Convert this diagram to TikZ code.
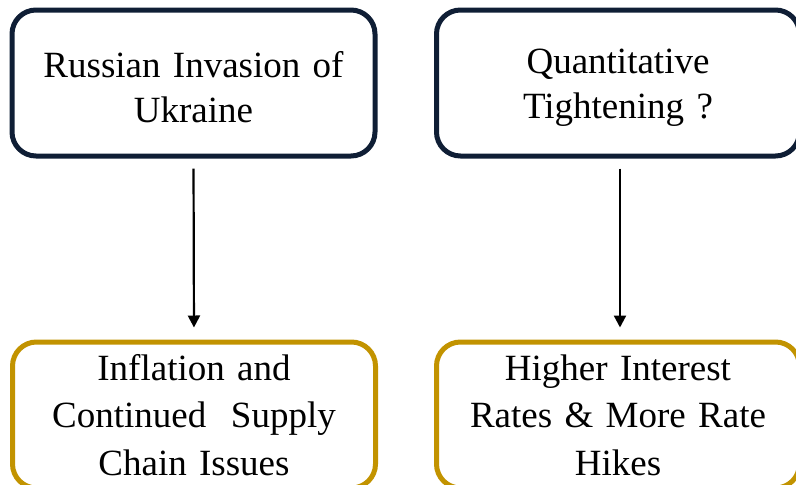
\documentclass[tikz,border=0pt]{standalone}
\usepackage{fontspec}
\setmainfont{Liberation Serif}
\usetikzlibrary{arrows.meta}
\definecolor{navy}{HTML}{0F1E35}
\definecolor{gold}{HTML}{C29300}
\newcommand{\lowerstrut}{\rule{0pt}{34pt}}
\tikzset{
  box/.style={draw, line width=5pt, rounded corners=24pt, minimum width=363pt, minimum height=146pt,
    align=center, font=\fontsize{37}{45.5}\selectfont, inner sep=0pt, text width=340pt},
  topbox/.style={box, draw=navy},
  botbox/.style={box, draw=gold, font=\fontsize{37}{47.5}\selectfont},
  conn/.style={line width=2.2pt, -{Triangle[width=12pt,length=12pt]}, shorten <=10pt, shorten >=12pt}
}
\begin{document}
\begin{tikzpicture}[x=1pt,y=1pt]
\useasboundingbox (0,0) rectangle (796,-485);
\node[topbox] (tl) at (193.5,-83) {\lowerstrut Russian Invasion of\\Ukraine};
\node[topbox] (tr) at (618,-83) {\lowerstrut Quantitative\\Tightening ?};
\node[botbox] (bl) at (194,-415) {Inflation and\\Continued\ \ Supply\\Chain Issues};
\node[botbox] (br) at (618,-415) {Higher Interest\\Rates \& More Rate\\Hikes};
\draw[conn] (tl.south) -- (bl.north);
\draw[conn] ([xshift=2pt]tr.south) -- ([xshift=2pt]br.north);
\end{tikzpicture}
\end{document}
